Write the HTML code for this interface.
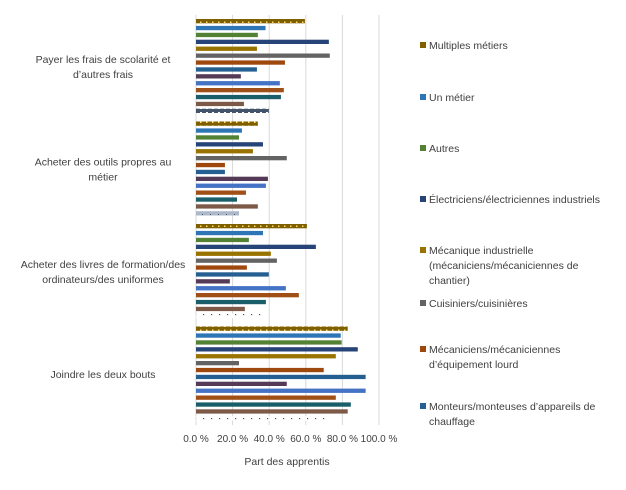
<!DOCTYPE html>
<html><head><meta charset="utf-8"><style>
body{margin:0;background:#fff;font-family:"Liberation Sans",sans-serif;}
svg text{font-family:"Liberation Sans",sans-serif;fill:#404040;}
</style></head><body>
<svg id="chart" width="626" height="485" viewBox="0 0 626 485" xmlns="http://www.w3.org/2000/svg">
<defs>
<pattern id="pDots" width="6" height="4" patternUnits="userSpaceOnUse"><rect width="6" height="4" fill="#7f6000"/><rect x="2" y="1.5" width="1.5" height="1.5" fill="#ffd966"/></pattern>
<pattern id="pSlate" width="6" height="4" patternUnits="userSpaceOnUse"><rect width="6" height="4" fill="#44546a"/><rect x="2" y="0" width="2" height="1" fill="#fff"/></pattern>
<pattern id="pLight" width="8" height="4" patternUnits="userSpaceOnUse"><rect width="8" height="4" fill="#adb9ca"/><rect x="2" y="2" width="1" height="1" fill="#44546a"/></pattern>
<pattern id="pWhite" width="8" height="4" patternUnits="userSpaceOnUse"><rect width="8" height="4" fill="#fff"/><rect x="3" y="2" width="1.2" height="1.2" fill="#44546a"/></pattern>
</defs>
<g id="grid"></g><g id="bars"></g><g id="labels"></g><g id="legend"></g>
</svg>
<script>
const categories=["Payer les frais de scolarité et|d’autres frais","Acheter des outils propres au|métier","Acheter des livres de formation/des|ordinateurs/des uniformes","Joindre les deux bouts"];
const s1=[59.5,33.8,60.6,82.9];
const s2=[38,25.1,36.6,79.1];
const s3=[33.8,23.5,28.9,79.6];
const s4=[72.6,36.6,65.5,88.4];
const s5=[33.3,31.1,40.9,76.4];
const s6=[73.1,49.6,44.2,23.5];
const s7=[48.6,15.8,27.8,69.8];
const s8=[33.3,15.8,39.8,92.7];
const s9=[24.5,39.3,18.5,49.6];
const s10=[45.8,38.2,49.1,92.7];
const s11=[48,27.3,56.2,76.4];
const s12=[46.4,22.4,38.2,84.6];
const s13=[26.2,33.8,26.7,82.9];
const s14=[39.8,23.5,37.6,73.1];
const xTicks=["0.0 %","20.0 %","40.0 %","60.0 %","80.0 %","100.0 %"];
const tickVals=[0,20,40,60,80,100];
const legendNames=["Multiples métiers","Un métier","Autres","Électriciens/électriciennes industriels","Mécanique industrielle|(mécaniciens/mécaniciennes de|chantier)","Cuisiniers/cuisinières","Mécaniciens/mécaniciennes|d’équipement lourd","Monteurs/monteuses d’appareils de|chauffage"];
const series=[s1,s2,s3,s4,s5,s6,s7,s8,s9,s10,s11,s12,s13,s14];
const colors=["url(#pDots)","#2e75b6","#548235","#264478","#997300","#636363","#9e480e","#255e91","#543a57","#4472c4","#a04f16","#1a5e6a","#7d5a48",null];
const lastColors=["url(#pSlate)","url(#pLight)","url(#pWhite)","url(#pWhite)"];
const legendColors=["#7f6000","#2e75b6","#548235","#264478","#997300","#636363","#9e480e","#255e91"];
const legendY=[46,98,149,200,251,304,350,407];
const NS="http://www.w3.org/2000/svg";
const X0=196,X1=379,PT=15,BAND=102.5;
function xs(v){return X0+v/100*(X1-X0);}
function ys(ci,si){return PT+4+ci*BAND+si*6.9;}
function mk(tag,attrs,parent){const e=document.createElementNS(NS,tag);for(const k in attrs)e.setAttribute(k,attrs[k]);parent.appendChild(e);return e;}
const grid=document.getElementById('grid'),bars=document.getElementById('bars'),labels=document.getElementById('labels'),legend=document.getElementById('legend');
tickVals.forEach((v,i)=>{
  const l=mk('line',{x1:xs(v),x2:xs(v),y1:PT,y2:425,stroke:'#d9d9d9','stroke-width':1},grid);
  
  
  const t=mk('text',{x:xs(v),y:442,'font-size':10,'text-anchor':'middle'},labels);
  t.textContent=xTicks[i];
  
  
});
const at=mk('text',{x:287,y:465,'font-size':10.5,'text-anchor':'middle'},labels);
at.textContent="Part des apprentis";


series.forEach((s,si)=>{
  s.forEach((v,ci)=>{
    const fill=si===13?lastColors[ci]:colors[si];
    const r=mk('rect',{x:X0,y:ys(ci,si),width:xs(v)-X0,height:4.3,fill:fill},bars);
    
    
  });
});
categories.forEach((c,ci)=>{
  const lines=c.split('|');const cy=PT+ci*BAND+BAND/2;
  lines.forEach((ln,li)=>{
    const t=mk('text',{x:103,y:cy+4+(li-(lines.length-1)/2)*15,'font-size':10.5,'text-anchor':'middle'},labels);
    t.textContent=ln;
    
    
  });
});
legendNames.forEach((n,i)=>{
  const g=mk('g',{},legend);
  
  
  mk('rect',{x:420,y:legendY[i]-4,width:6,height:6,fill:legendColors[i]},g);
  n.split('|').forEach((ln,li)=>{
    const t=mk('text',{x:429,y:legendY[i]+3+li*15,'font-size':10.5},g);
    t.textContent=ln;
  });
});
</script>
</body></html>
